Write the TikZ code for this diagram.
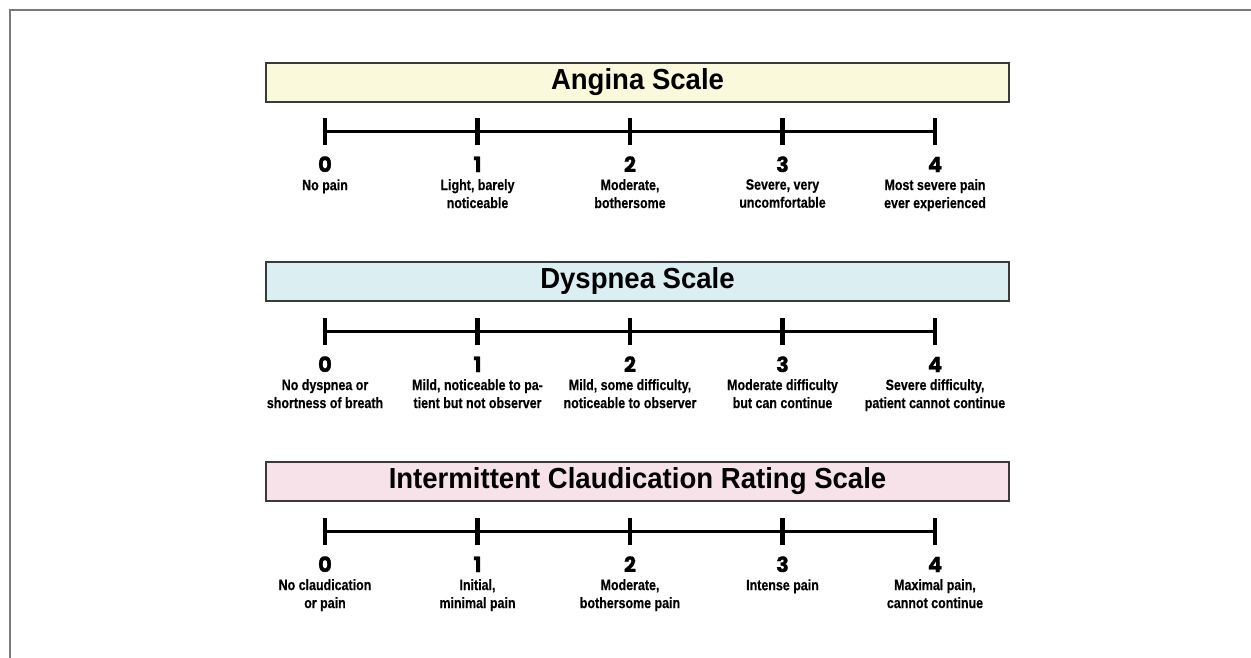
\documentclass[tikz,border=0pt]{standalone}
\usepackage{fontspec}
\setmainfont{Liberation Sans}
\newfontfamily\labelfont[FakeStretch=0.83,BoldFeatures={FakeBold=0.4}]{Liberation Sans}
\newfontfamily\titlefont[FakeStretch=0.95]{Liberation Sans}
\newfontfamily\numfont[BoldFeatures={FakeBold=1.2}]{Poppins}
\definecolor{anginafill}{HTML}{FAF9DC}
\definecolor{dyspneafill}{HTML}{DBEFF3}
\definecolor{claudfill}{HTML}{F8E2EA}
\definecolor{boxline}{HTML}{3A3A3A}
\definecolor{framegray}{HTML}{7A7A7A}
\newcommand{\firstlinestrut}{\rule{0pt}{11pt}}
\tikzset{
  titlebox/.style={draw=boxline, line width=2pt, minimum width=743pt, minimum height=39pt,
    inner sep=0pt, font=\titlefont\bfseries\fontsize{29}{30}\selectfont},
  scaleline/.style={line width=3.5pt},
  tickmark/.style={line width=4.5pt},
  numlab/.style={font=\numfont\bfseries\fontsize{21}{21}\selectfont, anchor=base, inner sep=0pt},
  desc/.style={font=\labelfont\bfseries\fontsize{15}{18}\selectfont, align=center, anchor=north,
    inner sep=0pt, execute at begin node=\firstlinestrut},
  framestyle/.style={draw=framegray, line width=2pt}
}
\newcommand{\ratingpoint}[5]{%
  \coordinate (#1t#2) at (#3,131.5+#4);
  \coordinate (#1u#2) at (#3,118+#4);
  \coordinate (#1l#2) at (#3,145+#4);
  \draw[tickmark] (#1u#2) -- (#1l#2);
  \node[numlab] (#1n#2) at (#3,172+#4) {#2};
  \node[desc] (#1d#2) at (#3,179+#4) {#5};
}
\begin{document}
\begin{tikzpicture}[x=1pt,y=-1pt]
\useasboundingbox (0,0) rectangle (1251,657);
\coordinate (fa) at (10,660);
\coordinate (fb) at (10,10);
\coordinate (fc) at (1255,10);
\draw[framestyle] (fa) -- (fb) -- (fc);

% Angina
\node[titlebox, fill=anginafill] (atitle) at (637.5,82.5) {Angina Scale};
\ratingpoint{a}{0}{325}{0}{No pain}
\ratingpoint{a}{1}{477.5}{0}{Light, barely\\noticeable}
\ratingpoint{a}{2}{630}{0}{Moderate,\\bothersome}
\ratingpoint{a}{3}{782.5}{0}{Severe, very\\uncomfortable}
\ratingpoint{a}{4}{935}{0}{Most severe pain\\ever experienced}
\draw[scaleline] (at0) -- (at4);

% Dyspnea
\node[titlebox, fill=dyspneafill] (dtitle) at (637.5,281) {Dyspnea Scale};
\ratingpoint{d}{0}{325}{200}{No dyspnea or\\shortness of breath}
\ratingpoint{d}{1}{477.5}{200}{Mild, noticeable to pa-\\tient but not observer}
\ratingpoint{d}{2}{630}{200}{Mild, some difficulty,\\noticeable to observer}
\ratingpoint{d}{3}{782.5}{200}{Moderate difficulty\\but can continue}
\ratingpoint{d}{4}{935}{200}{Severe difficulty,\\patient cannot continue}
\draw[scaleline] (dt0) -- (dt4);

% Claudication
\node[titlebox, fill=claudfill] (ctitle) at (637.5,481) {Intermittent Claudication Rating Scale};
\ratingpoint{c}{0}{325}{400}{No claudication\\or pain}
\ratingpoint{c}{1}{477.5}{400}{Initial,\\minimal pain}
\ratingpoint{c}{2}{630}{400}{Moderate,\\bothersome pain}
\ratingpoint{c}{3}{782.5}{400}{Intense pain}
\ratingpoint{c}{4}{935}{400}{Maximal pain,\\cannot continue}
\draw[scaleline] (ct0) -- (ct4);
\end{tikzpicture}
\end{document}
